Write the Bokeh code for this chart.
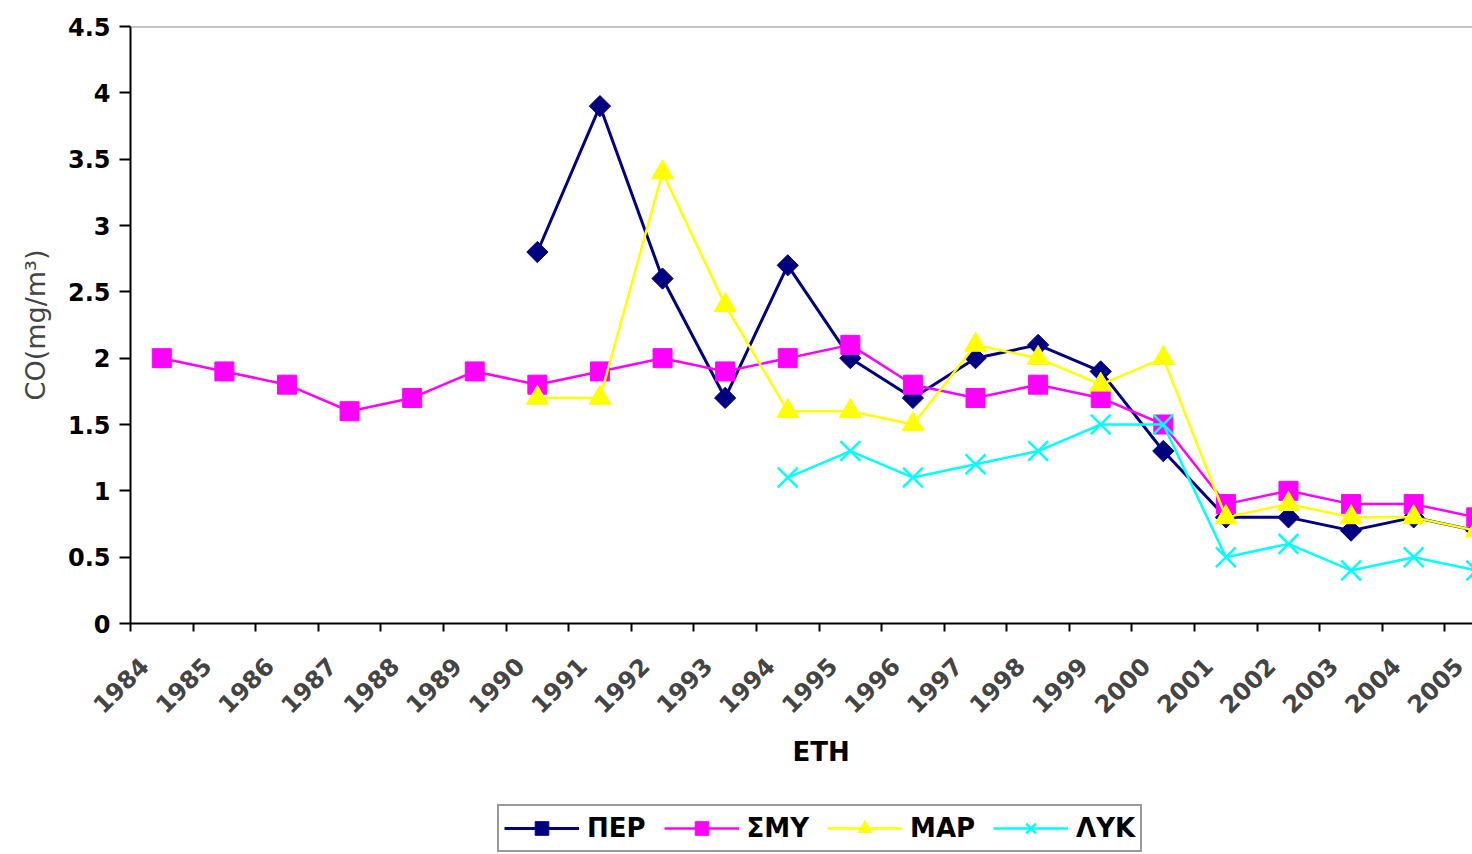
import math
import numpy as np
from bokeh.plotting import figure
from bokeh.layouts import column
from bokeh.models import (Range1d, FixedTicker, Span, Legend, LegendItem, Title,
                          NumeralTickFormatter, CustomJSTickFormatter, ColumnDataSource)
from bokeh.embed import file_html
from bokeh.resources import INLINE

nan = float("nan")

# ---- data ----
years = [str(y) for y in range(1984, 2006)]
per = [nan] * 6 + [2.8, 3.9, 2.6, 1.7, 2.7, 2.0, 1.7, 2.0, 2.1, 1.9, 1.3, 0.8, 0.8, 0.7, 0.8, 0.7]
smy = [2.0, 1.9, 1.8, 1.6, 1.7, 1.9, 1.8, 1.9, 2.0, 1.9, 2.0, 2.1, 1.8, 1.7, 1.8, 1.7, 1.5,
       0.9, 1.0, 0.9, 0.9, 0.8]
mar = [nan] * 6 + [1.7, 1.7, 3.4, 2.4, 1.6, 1.6, 1.5, 2.1, 2.0, 1.8, 2.0, 0.8, 0.9, 0.8, 0.8, 0.7]
lyk = [nan] * 10 + [1.1, 1.3, 1.1, 1.2, 1.3, 1.5, 1.5, 0.5, 0.6, 0.4, 0.5, 0.4]
series_names = ["ΠΕΡ", "ΣΜΥ", "ΜΑΡ", "ΛΥΚ"]
y_ticks = [0, 0.5, 1, 1.5, 2, 2.5, 3, 3.5, 4, 4.5]

FONT = "DejaVu Sans"

n = len(years)
xc = np.arange(n) + 0.5          # category centres (points)
xlab = np.arange(n) + 0.22       # label anchors (Excel-style offset)
xb = list(range(n + 1))          # category boundaries (tick marks)

MAIN_H = 790
p = figure(width=1472, height=MAIN_H, output_backend="svg", toolbar_location=None,
           x_range=Range1d(0, 21.44), y_range=Range1d(0, 4.5),
           min_border_left=130, min_border_right=0, min_border_top=26,
           min_border_bottom=MAIN_H - 623)
p.outline_line_color = None
p.xgrid.visible = False
p.ygrid.visible = False
p.background_fill_color = "white"
p.border_fill_color = "white"

# top border line of plot area
p.add_layout(Span(location=4.5, dimension="width", line_color="#8c8c8c", line_width=2))

# y axis
p.yaxis.ticker = FixedTicker(ticks=y_ticks)
p.yaxis.formatter = NumeralTickFormatter(format="0.[0]")
p.yaxis.axis_line_color = "black"
p.yaxis.axis_line_width = 2
p.yaxis.major_tick_line_width = 2
p.yaxis.major_tick_out = 11
p.yaxis.major_tick_in = 0
p.yaxis.minor_tick_line_color = None
p.yaxis.major_label_text_font = FONT
p.yaxis.major_label_text_font_style = "bold"
p.yaxis.major_label_text_font_size = "24px"
p.yaxis.major_label_text_color = "black"
p.yaxis.major_label_standoff = 9
p.yaxis.axis_label = "CO(mg/m³)"
p.yaxis.axis_label_text_font = FONT
p.yaxis.axis_label_text_font_style = "normal"
p.yaxis.axis_label_text_font_size = "27px"
p.yaxis.axis_label_standoff = 14

# x axis: labels per category, tick marks at category boundaries
p.xaxis.ticker = FixedTicker(ticks=list(xlab), minor_ticks=xb)
p.xaxis.formatter = CustomJSTickFormatter(args=dict(labels=years),
                                          code="const i = Math.floor(tick); return labels[i] ?? '';")
p.xaxis.axis_line_color = "black"
p.xaxis.axis_line_width = 2
p.xaxis.major_tick_out = 0
p.xaxis.major_tick_in = 0
p.xaxis.minor_tick_out = 8
p.xaxis.minor_tick_in = 0
p.xaxis.minor_tick_line_width = 2
p.xaxis.minor_tick_line_color = "black"
p.xaxis.major_label_orientation = math.pi / 4
p.xaxis.major_label_text_font = FONT
p.xaxis.major_label_text_font_style = "bold"
p.xaxis.major_label_text_font_size = "24px"
p.xaxis.major_label_standoff = 30

# x axis title ("ETH"), centred on the full category range
p.add_layout(Title(text="ETH", align="left", offset=662, text_font=FONT,
                   text_font_style="bold", text_font_size="26px", text_color="black",
                   standoff=20), "below")

styles = [
    dict(data=per, color="#000080", marker="square", size=15, angle=math.pi / 4, lw=3),
    dict(data=smy, color="#ff00ff", marker="square", size=19, angle=0, lw=2.5),
    dict(data=mar, color="#ffff00", marker="triangle", size=22, angle=0, lw=2.5),
    dict(data=lyk, color="#00ffff", marker="x", size=28, angle=0, lw=2.5),
]

# legend strip below the chart (its own figure, so the legend is not clipped)
LEG_H = 854 - MAIN_H
pl = figure(width=1472, height=LEG_H, output_backend="svg", toolbar_location=None,
            x_range=Range1d(-100, -99), y_range=Range1d(-100, -99),
            x_axis_type=None, y_axis_type=None, min_border=0)
pl.outline_line_color = None
pl.xgrid.visible = False
pl.ygrid.visible = False
pl.background_fill_color = "white"
pl.border_fill_color = "white"


def draw(fig, src, st):
    lr = fig.line("x", "y", source=src, line_color=st["color"], line_width=st["lw"])
    if st["marker"] == "x":
        sr = fig.scatter("x", "y", source=src, marker="x", size=st["size"],
                         line_color=st["color"], line_width=2.5)
    else:
        sr = fig.scatter("x", "y", source=src, marker=st["marker"], size=st["size"],
                         angle=st["angle"], fill_color=st["color"], line_color=st["color"])
    return lr, sr


items = []
for name, st in zip(series_names, styles):
    src = ColumnDataSource(dict(x=xc, y=st["data"]))
    draw(p, src, st)
    lr, sr = draw(pl, src, st)   # out of view in the legend strip; used for legend glyphs
    items.append(LegendItem(label=name, renderers=[lr, sr]))

# the strip's frame is aligned with the main frame (left edge at 130 px)
legend = Legend(items=items, orientation="horizontal", location=(367, 2))
legend.border_line_color = "#333333"
legend.border_line_width = 2
legend.background_fill_color = "white"
legend.background_fill_alpha = 1
legend.label_text_font = FONT
legend.label_text_font_style = "bold"
legend.label_text_font_size = "26px"
legend.label_text_color = "black"
legend.glyph_width = 75
legend.glyph_height = 34
legend.label_standoff = 8
legend.spacing = 18
legend.padding = 5
legend.margin = 0
pl.add_layout(legend, "center")

layout = column(p, pl, spacing=0)
open("out.html", "w").write(file_html(layout, INLINE))
